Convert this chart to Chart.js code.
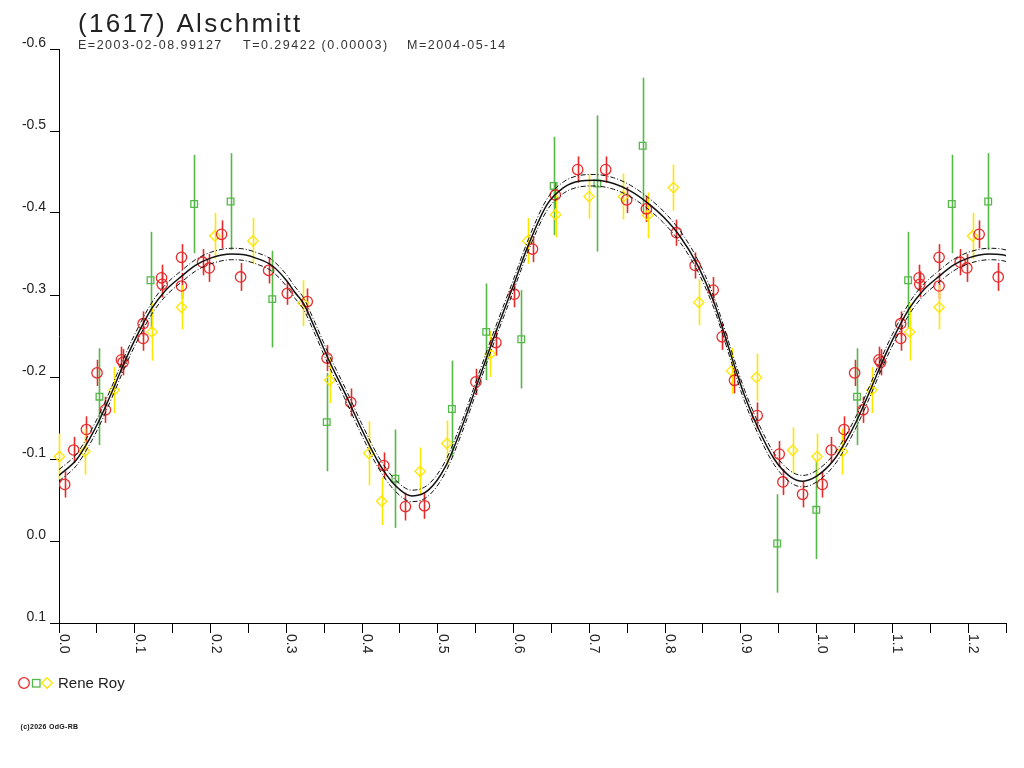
<!DOCTYPE html>
<html>
<head>
<meta charset="utf-8">
<script src="https://cdn.jsdelivr.net/npm/chart.js@4.4.1/dist/chart.umd.min.js"></script>
<style>
  html, body { margin: 0; padding: 0; background: #ffffff; }
  #wrap { width: 1024px; height: 768px; position: relative; }
</style>
</head>
<body>
<div id="wrap"><canvas id="c" width="1024" height="768"></canvas></div>
<script>
// ---------------- DATA ----------------
const titleText = "(1617) Alschmitt";
const subE = "E=2003-02-08.99127";
const subT = "T=0.29422 (0.00003)";
const subM = "M=2004-05-14";
const observer = "Rene Roy";
const copyright = "(c)2026 OdG-RB";

const xTicks = [0,0.05,0.1,0.15,0.2,0.25,0.3,0.35,0.4,0.45,0.5,0.55,0.6,0.65,0.7,0.75,0.8,0.85,0.9,0.95,1.0,1.05,1.1,1.15,1.2,1.25];
const xLabels = ["0.0","0.1","0.2","0.3","0.4","0.5","0.6","0.7","0.8","0.9","1.0","1.1","1.2"];
const xLabelValues = [0,0.1,0.2,0.3,0.4,0.5,0.6,0.7,0.8,0.9,1.0,1.1,1.2];
const yTicks = [-0.6,-0.5,-0.4,-0.3,-0.2,-0.1,0.0,0.1];

// red circles
const redPhase = [0.0075,0.0194,0.0362,0.0502,0.0613,0.0824,0.0846,0.111,0.111,0.1353,0.1362,0.1617,0.1617,0.1895,0.1983,0.2146,0.2397,0.2767,0.3013,0.3277,0.3538,0.3851,0.4287,0.4573,0.4824,0.5503,0.5767,0.6009,0.6250,0.6551,0.6846,0.7216,0.7493,0.7753,0.8150,0.8397,0.8635,0.8754,0.8916,0.9216,0.9507,0.9555,0.9815];
const redMag   = [-0.069,-0.111,-0.136,-0.205,-0.160,-0.221,-0.218,-0.265,-0.247,-0.321,-0.313,-0.346,-0.311,-0.340,-0.333,-0.374,-0.322,-0.330,-0.302,-0.292,-0.223,-0.169,-0.092,-0.042,-0.043,-0.194,-0.242,-0.301,-0.356,-0.422,-0.453,-0.453,-0.416,-0.405,-0.376,-0.336,-0.306,-0.249,-0.196,-0.153,-0.106,-0.072,-0.057];
const redErr   = [0.016,0.016,0.016,0.016,0.016,0.016,0.016,0.015,0.015,0.016,0.016,0.016,0.016,0.016,0.017,0.017,0.017,0.016,0.014,0.016,0.016,0.017,0.016,0.017,0.016,0.016,0.016,0.016,0.016,0.016,0.016,0.016,0.016,0.016,0.016,0.016,0.016,0.016,0.016,0.016,0.016,0.016,0.016];

// green squares
const greenPhase = [0.0534,0.1208,0.1784,0.2265,0.2815,0.3534,0.4440,0.5186,0.5639,0.6102,0.6529,0.7106,0.7704,0.9480,0.9996];
const greenMag   = [-0.176,-0.318,-0.411,-0.414,-0.295,-0.145,-0.076,-0.161,-0.255,-0.246,-0.433,-0.436,-0.482,0.003,-0.038];
const greenErr   = [0.059,0.059,0.060,0.059,0.059,0.060,0.060,0.059,0.059,0.060,0.060,0.083,0.083,0.060,0.060];

// yellow diamonds
const yellowPhase = [0.0005,0.034,0.0727,0.1229,0.1617,0.2058,0.256,0.3225,0.3573,0.4089,0.4260,0.4767,0.5120,0.5692,0.6185,0.6555,0.6996,0.7450,0.7770,0.8110,0.8445,0.8877,0.9207,0.9683];
const yellowMag   = [-0.103,-0.109,-0.184,-0.255,-0.285,-0.372,-0.366,-0.290,-0.196,-0.107,-0.0485,-0.085,-0.119,-0.228,-0.366,-0.398,-0.420,-0.420,-0.397,-0.431,-0.291,-0.2075,-0.1995,-0.1106];
const yellowErr   = [0.028,0.028,0.028,0.035,0.027,0.028,0.028,0.028,0.028,0.039,0.029,0.029,0.028,0.028,0.028,0.028,0.027,0.028,0.028,0.028,0.028,0.028,0.029,0.028];

// fitted curve, with its two envelopes
const curvePhase = [0.000,0.023,0.040,0.053,0.070,0.085,0.100,0.122,0.140,0.162,0.180,0.200,0.228,0.245,0.260,0.281,0.300,0.3115,0.3225,0.338,0.3555,0.3776,0.3996,0.4216,0.4436,0.4657,0.4876,0.5097,0.5318,0.5537,0.5758,0.5979,0.620,0.644,0.666,0.688,0.706,0.732,0.754,0.776,0.798,0.820,0.842,0.864,0.875,0.890,0.905,0.922,0.944,0.966,0.982,1.000];
const curveMag   = [-0.080,-0.099,-0.124,-0.147,-0.182,-0.215,-0.245,-0.283,-0.305,-0.323,-0.336,-0.345,-0.350,-0.349,-0.345,-0.336,-0.318,-0.303,-0.290,-0.259,-0.222,-0.180,-0.136,-0.096,-0.068,-0.055,-0.062,-0.090,-0.139,-0.196,-0.253,-0.307,-0.362,-0.410,-0.431,-0.439,-0.440,-0.436,-0.427,-0.413,-0.395,-0.371,-0.338,-0.292,-0.262,-0.218,-0.177,-0.139,-0.100,-0.078,-0.073,-0.079];
const curveUpper = [-0.087,-0.106,-0.131,-0.154,-0.189,-0.222,-0.252,-0.290,-0.312,-0.330,-0.343,-0.352,-0.357,-0.356,-0.352,-0.343,-0.325,-0.310,-0.297,-0.266,-0.229,-0.187,-0.143,-0.103,-0.075,-0.062,-0.069,-0.097,-0.146,-0.203,-0.260,-0.314,-0.369,-0.417,-0.438,-0.446,-0.447,-0.443,-0.434,-0.420,-0.402,-0.378,-0.345,-0.299,-0.269,-0.225,-0.184,-0.146,-0.107,-0.085,-0.080,-0.086];
const curveLower = [-0.073,-0.092,-0.117,-0.140,-0.175,-0.208,-0.238,-0.276,-0.298,-0.316,-0.329,-0.338,-0.343,-0.342,-0.338,-0.329,-0.311,-0.296,-0.283,-0.252,-0.215,-0.173,-0.129,-0.089,-0.061,-0.048,-0.055,-0.083,-0.132,-0.189,-0.246,-0.300,-0.355,-0.403,-0.424,-0.432,-0.433,-0.429,-0.420,-0.406,-0.388,-0.364,-0.331,-0.285,-0.255,-0.211,-0.170,-0.132,-0.093,-0.071,-0.066,-0.072];

// ---------------- helpers ----------------
const X_MAX = 1.25;
function phasePoints(ph, mag, err) {
  const pts = ph.map((p, i) => ({x: p, y: mag[i], e: err ? err[i] : 0}));
  // phased light curve: phases are repeated one cycle later up to the axis end
  ph.forEach((p, i) => { if (p + 1 <= X_MAX) pts.push({x: p + 1, y: mag[i], e: err ? err[i] : 0}); });
  return pts;
}
function curvePoints(ph, mag) {
  const pts = ph.map((p, i) => ({x: p, y: mag[i]}));
  ph.forEach((p, i) => { if (p > 0 && p + 1 <= X_MAX + 0.03) pts.push({x: p + 1, y: mag[i]}); });
  return pts;
}

const RED = '#e82a2a', GREEN = '#55b848', YELLOW = '#ffe600';
const FONT = "'Liberation Sans', Arial, sans-serif";

const errorBars = {
  id: 'errorBars',
  beforeDatasetsDraw(chart) {
    const ctx = chart.ctx, xs = chart.scales.x, ys = chart.scales.y;
    chart.data.datasets.forEach((ds, di) => {
      if (!ds.errBars) return;
      ctx.save();
      ctx.strokeStyle = ds.borderColor;
      ctx.lineWidth = 1.6;
      ds.data.forEach(pt => {
        const px = Math.round(xs.getPixelForValue(pt.x)) + 0.5;
        const y1 = ys.getPixelForValue(pt.y - pt.e);
        const y2 = ys.getPixelForValue(pt.y + pt.e);
        ctx.beginPath(); ctx.moveTo(px, y1); ctx.lineTo(px, y2); ctx.stroke();
      });
      ctx.restore();
    });
  }
};

const decorations = {
  id: 'decorations',
  afterDraw(chart) {
    const ctx = chart.ctx, xs = chart.scales.x;
    ctx.save();
    // title
    ctx.fillStyle = '#222';
    ctx.textAlign = 'left';
    ctx.textBaseline = 'alphabetic';
    ctx.font = '26px ' + FONT;
    ctx.letterSpacing = '2.3px';
    ctx.fillText(titleText, 78, 31.5);
    // subtitle
    ctx.font = '12.5px ' + FONT;
    ctx.letterSpacing = '1.5px';
    ctx.fillStyle = '#333';
    ctx.fillText(subE, 78, 49);
    ctx.fillText(subT, 243, 49);
    ctx.fillText(subM, 407, 49);
    // x labels rotated clockwise
    ctx.font = '14px ' + FONT;
    ctx.letterSpacing = '0px';
    ctx.fillStyle = '#222';
    xLabelValues.forEach((v, i) => {
      const px = xs.getPixelForValue(v);
      ctx.save();
      ctx.translate(px + 1, 634);
      ctx.rotate(Math.PI / 2);
      ctx.fillText(xLabels[i], 0, 0);
      ctx.restore();
    });
    // legend
    ctx.lineWidth = 1.3;
    ctx.strokeStyle = RED;
    ctx.beginPath(); ctx.arc(24, 683, 5.3, 0, Math.PI * 2); ctx.stroke();
    ctx.strokeStyle = GREEN;
    ctx.strokeRect(32.5, 679.5, 7.5, 7.5);
    ctx.strokeStyle = YELLOW;
    ctx.beginPath(); ctx.moveTo(41.7, 683); ctx.lineTo(47, 677.7); ctx.lineTo(52.3, 683); ctx.lineTo(47, 688.3); ctx.closePath(); ctx.stroke();
    ctx.font = '15px ' + FONT;
    ctx.fillStyle = '#222';
    ctx.fillText(observer, 58, 688);
    // copyright
    ctx.font = 'bold 7px ' + FONT;
    ctx.letterSpacing = '0.3px';
    ctx.fillStyle = '#111';
    ctx.fillText(copyright, 20.5, 729);
    ctx.restore();
  }
};

const ctx = document.getElementById('c').getContext('2d');
new Chart(ctx, {
  type: 'scatter',
  data: {
    datasets: [
      { label: 'fit', type: 'line', data: curvePoints(curvePhase, curveMag), borderColor: '#111', borderWidth: 1.5,
        pointRadius: 0, cubicInterpolationMode: 'monotone', fill: false, showLine: true },
      { label: 'fit+', type: 'line', data: curvePoints(curvePhase, curveUpper), borderColor: '#111', borderWidth: 1,
        borderDash: [5, 2, 1, 2], pointRadius: 0, cubicInterpolationMode: 'monotone', fill: false, showLine: true },
      { label: 'fit-', type: 'line', data: curvePoints(curvePhase, curveLower), borderColor: '#111', borderWidth: 1,
        borderDash: [5, 2, 1, 2], pointRadius: 0, cubicInterpolationMode: 'monotone', fill: false, showLine: true },
      { label: 'Rene Roy red', data: phasePoints(redPhase, redMag, redErr), errBars: true, pointStyle: 'circle',
        pointRadius: 5.2, borderColor: RED, backgroundColor: 'rgba(0,0,0,0)', borderWidth: 1.3, clip: false },
      { label: 'Rene Roy green', data: phasePoints(greenPhase, greenMag, greenErr), errBars: true, pointStyle: 'rect',
        pointRadius: 4.7, borderColor: GREEN, backgroundColor: 'rgba(0,0,0,0)', borderWidth: 1.3, clip: false },
      { label: 'Rene Roy yellow', data: phasePoints(yellowPhase, yellowMag, yellowErr), errBars: true, pointStyle: 'rectRot',
        pointRadius: 5.2, borderColor: YELLOW, backgroundColor: 'rgba(0,0,0,0)', borderWidth: 1.3, clip: false }
    ]
  },
  options: {
    responsive: false,
    devicePixelRatio: 1,
    animation: false,
    layout: { padding: { left: 0, top: 49, right: 18, bottom: 0 } },
    plugins: { legend: { display: false }, tooltip: { enabled: false }, title: { display: false } },
    scales: {
      x: {
        type: 'linear', min: 0, max: X_MAX,
        afterFit(s) { s.height = 145; },
        afterBuildTicks(s) { s.ticks = xTicks.map(v => ({ value: v })); },
        ticks: { display: false },
        grid: { display: true, drawOnChartArea: false, drawTicks: true, tickLength: 10, color: '#000', lineWidth: 1 },
        border: { display: true, color: '#000', width: 1 }
      },
      y: {
        type: 'linear', reverse: true, min: -0.6, max: 0.1,
        afterFit(s) { s.width = 59; },
        afterBuildTicks(s) { s.ticks = yTicks.map(v => ({ value: v })); },
        ticks: {
          callback: v => (Math.abs(v) < 1e-9 ? '0.0' : Number(v).toFixed(1)),
          font: { size: 14, family: FONT }, color: '#222', labelOffset: -6, padding: 4
        },
        grid: { display: true, drawOnChartArea: false, drawTicks: true, tickLength: 9, color: '#000', lineWidth: 1 },
        border: { display: true, color: '#000', width: 1 }
      }
    }
  },
  plugins: [errorBars, decorations]
});
</script>
</body>
</html>
